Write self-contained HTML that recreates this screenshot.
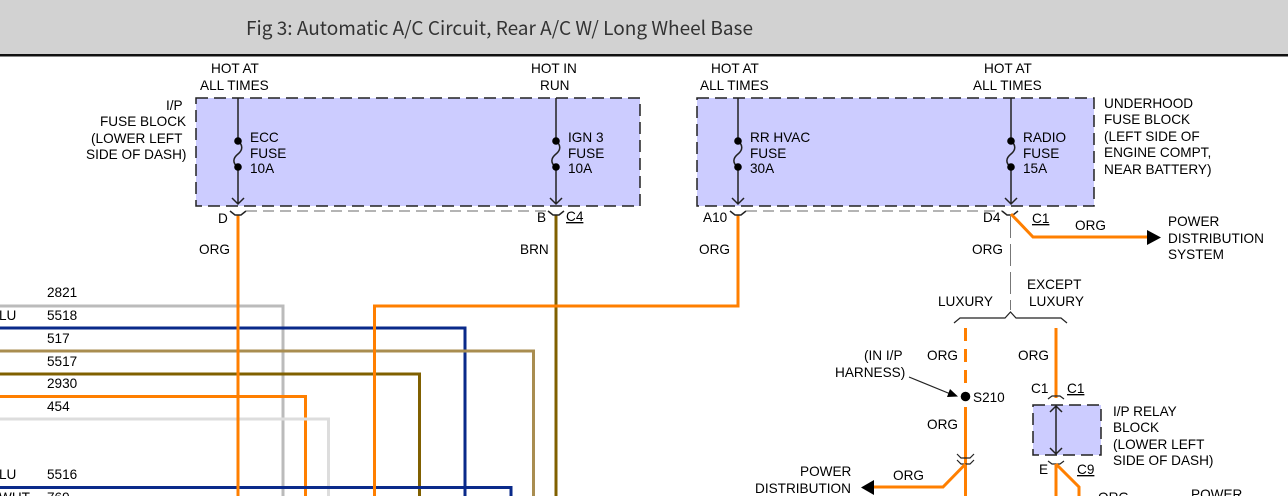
<!DOCTYPE html>
<html><head><meta charset="utf-8"><style>
html,body{margin:0;padding:0;background:#fff;width:1288px;height:496px;overflow:hidden}
svg{display:block}
text{font-family:"Liberation Sans",sans-serif;font-size:13.6px;fill:#000}
.w{fill:none;stroke-width:3;stroke-linejoin:miter}
.o{stroke:#ff7f00}
.k{fill:none;stroke:#222;stroke-width:1.5}
.g{fill:none;stroke:#888;stroke-width:1.2;stroke-dasharray:11 6}
.b{fill:#ccccff;stroke:#222;stroke-width:1.5;stroke-dasharray:12 6}
</style></head><body>
<svg width="1288" height="496" viewBox="0 0 1288 496" xmlns="http://www.w3.org/2000/svg">
<rect x="0" y="0" width="1288" height="54" fill="#d2d2d2"/>
<rect x="0" y="54" width="1288" height="2.5" fill="#111"/>
<text x="246" y="35" style="font-family:'Noto Sans CJK JP','Liberation Sans',sans-serif;font-size:19px;fill:#333" textLength="507" lengthAdjust="spacingAndGlyphs">Fig 3: Automatic A/C Circuit, Rear A/C W/ Long Wheel Base</text>

<rect class="b" x="196" y="98" width="444" height="108"/>
<rect class="b" x="697" y="98" width="397" height="108"/>
<rect class="b" x="1033" y="405" width="68" height="50"/>

<!-- wire bundle -->
<path class="w" stroke="#bbbbbb" d="M0 306H283V496"/>
<path class="w" stroke="#0a2a8a" d="M0 328H465V496"/>
<path class="w" stroke="#a98d50" d="M0 351H533.500V496"/>
<path class="w" stroke="#806000" d="M0 374H419.500V496"/>
<path class="w o" d="M0 396.500H305.500V496"/>
<path class="w" stroke="#dddddd" d="M0 419H328.500V496"/>
<path class="w" stroke="#0a2a8a" d="M0 487.500H511V496"/>
<path class="w o" d="M238 215V496"/>
<path class="w" stroke="#806000" d="M556 215V496"/>
<path class="w o" d="M738 215V306H374.500V496"/>

<!-- fuses -->
<g>
<path class="k" d="M238 98V141M238 167V204M232 198L238 204L244 198"/>
<path class="k" d="M238 141C243 145 243 150 238 154C233 158 232 163 238 167"/>
<circle cx="238" cy="141" r="3.800"/><circle cx="238" cy="167" r="3.800"/>
<path class="k" d="M556 98V141M556 167V204M550 198L556 204L562 198"/>
<path class="k" d="M556 141C561 145 561 150 556 154C551 158 550 163 556 167"/>
<circle cx="556" cy="141" r="3.800"/><circle cx="556" cy="167" r="3.800"/>
<path class="k" d="M738 98V141M738 167V204M732 198L738 204L744 198"/>
<path class="k" d="M738 141C743 145 743 150 738 154C733 158 732 163 738 167"/>
<circle cx="738" cy="141" r="3.800"/><circle cx="738" cy="167" r="3.800"/>
<path class="k" d="M1011 98V141M1011 167V204M1005 198L1011 204L1017 198"/>
<path class="k" d="M1011 141C1016 145 1016 150 1011 154C1006 158 1005 163 1011 167"/>
<circle cx="1011" cy="141" r="3.800"/><circle cx="1011" cy="167" r="3.800"/>
</g>

<!-- connectors -->
<path class="k" d="M230 211L235 215H241L246 211M548 211L553 215H559L564 211M730 211L735 215H741L746 211M1002 211L1007 215H1013L1018 211"/>
<path class="g" d="M246 211H548M746 211H1002"/>
<path class="g" d="M1010.500 216V310" style="stroke-dasharray:22 6;stroke:#777;stroke-width:1"/>

<!-- D4 branch -->
<path class="w o" d="M1011 214L1033 237H1150"/>
<path d="M1147 230L1161 237.500L1147 245Z" fill="#000"/>

<!-- bracket -->
<path class="k" style="stroke-width:1.200" d="M954 323L960 318H1005L1010.500 312L1016 318H1061L1067 323"/>

<!-- luxury -->
<path class="w o" d="M965.500 328V385" stroke-dasharray="13 8"/>
<circle cx="965.500" cy="396.500" r="4.800" fill="#000"/>
<path class="w o" d="M965.500 407V496"/>
<path class="k" style="stroke-width:1.200" d="M957 454L961 458H970L974 454M957 460L961 464H970L974 460"/>
<path class="w o" d="M965.500 464L943 487H873"/>
<path d="M874 480L861 487.500L874 495Z" fill="#000"/>
<path class="k" style="stroke-width:1.200" d="M909 377L953 395"/>
<path d="M958 396.500L947 397L950 389Z" fill="#000"/>

<!-- except luxury -->
<path class="w o" d="M1056 328V398"/>
<path class="k" style="stroke-width:1.200" d="M1048 399L1052 396H1060L1064 399"/>
<path class="k" d="M1056 406V454M1050 412L1056 406L1062 412M1050 448L1056 454L1062 448"/>
<path class="k" style="stroke-width:1.200" d="M1048 461L1052 464H1060L1064 461"/>
<path class="w o" d="M1056 464V496M1056 464L1079 487V496"/>

<!-- labels -->
<text x="211" y="73">HOT AT</text><text x="200" y="90">ALL TIMES</text>
<text x="531" y="73">HOT IN</text><text x="540" y="90">RUN</text>
<text x="711" y="73">HOT AT</text><text x="700" y="90">ALL TIMES</text>
<text x="984" y="73">HOT AT</text><text x="973" y="90">ALL TIMES</text>

<text x="166" y="110">I/P</text><text x="100" y="126">FUSE BLOCK</text><text x="91" y="143">(LOWER LEFT</text><text x="86" y="159">SIDE OF DASH)</text>

<text x="250" y="142">ECC</text><text x="250" y="158">FUSE</text><text x="250" y="173">10A</text>
<text x="568" y="142">IGN 3</text><text x="568" y="158">FUSE</text><text x="568" y="173">10A</text>
<text x="750" y="142">RR HVAC</text><text x="750" y="158">FUSE</text><text x="750" y="173">30A</text>
<text x="1023" y="142">RADIO</text><text x="1023" y="158">FUSE</text><text x="1023" y="173">15A</text>

<text x="1104" y="108">UNDERHOOD</text><text x="1104" y="124">FUSE BLOCK</text><text x="1104" y="141">(LEFT SIDE OF</text><text x="1104" y="157">ENGINE COMPT,</text><text x="1104" y="174">NEAR BATTERY)</text>

<text x="218" y="223">D</text><text x="537" y="222">B</text><text x="566" y="221" text-decoration="underline">C4</text>
<text x="703" y="222">A10</text><text x="983" y="222">D4</text><text x="1032" y="223" text-decoration="underline">C1</text>
<text x="199" y="254">ORG</text><text x="520" y="254">BRN</text><text x="699" y="254">ORG</text><text x="972" y="254">ORG</text>
<text x="1075" y="230">ORG</text>
<text x="1168" y="226">POWER</text><text x="1168" y="243">DISTRIBUTION</text><text x="1168" y="259">SYSTEM</text>

<text x="1027" y="289">EXCEPT</text><text x="1029" y="306">LUXURY</text><text x="938" y="306">LUXURY</text>
<text x="927" y="360">ORG</text><text x="1018" y="360">ORG</text>
<text x="864" y="360">(IN I/P</text><text x="835" y="377">HARNESS)</text>
<text x="973" y="402">S210</text><text x="927" y="429">ORG</text><text x="893" y="480">ORG</text>
<text x="800" y="476">POWER</text><text x="755" y="493">DISTRIBUTION</text>

<text x="1031" y="393">C1</text><text x="1067" y="393" text-decoration="underline">C1</text>
<text x="1113" y="416">I/P RELAY</text><text x="1113" y="432">BLOCK</text><text x="1113" y="449">(LOWER LEFT</text><text x="1113" y="465">SIDE OF DASH)</text>
<text x="1039" y="474">E</text><text x="1077" y="474" text-decoration="underline">C9</text>
<text x="1098" y="502">ORG</text><text x="1191" y="499">POWER</text>

<text x="47" y="297">2821</text>
<text x="-1" y="320">LU</text><text x="47" y="320">5518</text>
<text x="47" y="343">517</text>
<text x="47" y="366">5517</text>
<text x="47" y="388">2930</text>
<text x="47" y="411">454</text>
<text x="-1" y="479">LU</text><text x="47" y="479">5516</text>
<text x="-1" y="502">WHT</text><text x="47" y="502">769</text>
</svg>
</body></html>
